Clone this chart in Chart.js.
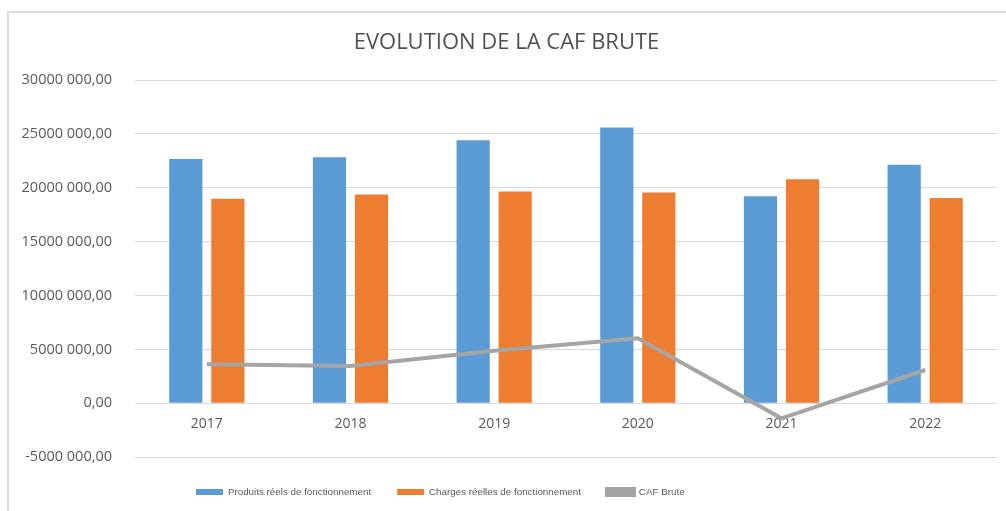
<!DOCTYPE html>
<html>
<head>
<meta charset="utf-8">
<script src="https://cdn.jsdelivr.net/npm/chart.js@4/dist/chart.umd.min.js"></script>
<style>
  body { margin: 0; background: #fff; }
  #frame { position: absolute; left: 7px; top: 11px; right: 0; bottom: 0;
           border-top: 2px solid #dcdcdc; border-left: 2px solid #dcdcdc; }
  #wrap { position: absolute; left: 0; top: 0; width: 1006px; height: 511px; }
</style>
</head>
<body>
<div id="frame"></div>
<div id="wrap"><canvas id="myChart"></canvas></div>
<script>
const years = ["2017", "2018", "2019", "2020", "2021", "2022"];
const produits = [22680000, 22840000, 24420000, 25600000, 19220000, 22130000];
const charges = [18970000, 19380000, 19660000, 19560000, 20800000, 19060000];
const cafBrute = [3620000, 3460000, 4880000, 6030000, -1390000, 3090000];
const yMin = -5000000;
const yMax = 30000000;
const yStep = 5000000;

const formatFr = (v) => {
  const fixed = Math.abs(v).toFixed(2).split(".");
  let ent = fixed[0];
  // Excel style: space only before the last three digits group
  if (ent.length > 3) ent = ent.slice(0, ent.length - 3) + " " + ent.slice(-3);
  return (v < 0 ? "-" : "") + ent + "," + fixed[1];
};

// moves the legend so it sits where Excel put it
const legendShift = {
  id: "legendShift",
  afterLayout(chart) {
    const lg = chart.legend;
    lg.left = 170;
    lg.top += 4;
    lg.bottom += 4;
  }
};

const ctx = document.getElementById("myChart").getContext("2d");
const myChart = new Chart(ctx, {
  type: "bar",
  data: {
    labels: years,
    datasets: [
      {
        label: "Produits réels de fonctionnement",
        data: produits,
        backgroundColor: "#5B9BD5",
        order: 1,
        categoryPercentage: 0.585,
        barPercentage: 0.79
      },
      {
        label: "Charges réelles de fonctionnement",
        data: charges,
        backgroundColor: "#ED7D31",
        order: 1,
        categoryPercentage: 0.585,
        barPercentage: 0.79
      },
      {
        type: "line",
        label: "CAF Brute",
        data: cafBrute,
        borderColor: "#A5A5A5",
        backgroundColor: "#A5A5A5",
        borderWidth: 4,
        pointRadius: 0,
        tension: 0,
        order: 0
      }
    ]
  },
  options: {
    responsive: true,
    maintainAspectRatio: false,
    animation: false,
    layout: { padding: { left: 16, right: 9, top: 0, bottom: 8 } },
    scales: {
      x: {
        position: { y: 0 },
        grid: { display: false, drawTicks: false },
        border: { display: false },
        ticks: { color: "#595959", font: { family: "Open Sans", size: 14 }, padding: 12 }
      },
      y: {
        min: yMin,
        max: yMax,
        afterFit(scale) { scale.width = 119; },
        grid: { color: "#d9d9d9", lineWidth: 1, drawTicks: false },
        border: { display: false },
        ticks: {
          stepSize: yStep,
          padding: 23,
          color: "#595959",
          font: { family: "Open Sans", size: 14.5 },
          callback: (v) => formatFr(v)
        }
      }
    },
    plugins: {
      title: {
        display: true,
        text: "EVOLUTION DE LA CAF BRUTE",
        color: "#505050",
        font: { family: "Open Sans", size: 22, weight: "normal" },
        padding: { top: 30, bottom: 23.6 }
      },
      legend: {
        position: "bottom",
        align: "start",
        labels: {
          boxWidth: 27,
          boxHeight: 6,
          padding: 26,
          color: "#595959",
          font: { family: "Liberation Sans", size: 9.8 },
          sort: (a, b) => a.datasetIndex - b.datasetIndex
        }
      },
      tooltip: { enabled: false }
    }
  },
  plugins: [legendShift]
});
</script>
</body>
</html>
